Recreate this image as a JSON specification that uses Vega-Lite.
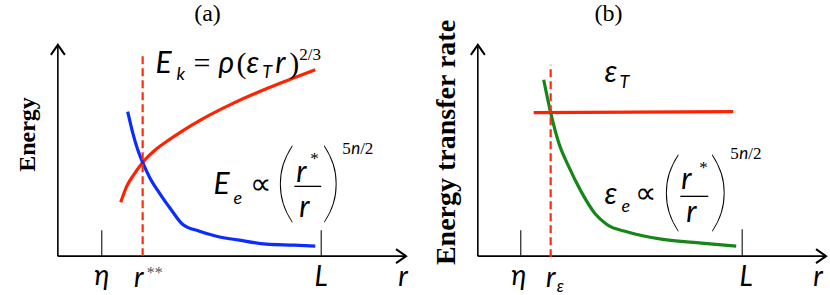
{
  "$schema": "https://vega.github.io/schema/vega-lite/v6.json",
  "width": 830,
  "height": 295,
  "autosize": {"type": "fit", "contains": "padding"},
  "padding": 0,
  "background": "white",
  "config": {"view": {"stroke": null}},
  "datasets": {
    "curves": [
      {"s": "Ek", "x": 121, "y": 92}, {"s": "Ek", "x": 127, "y": 108}, {"s": "Ek", "x": 135, "y": 121}, {"s": "Ek", "x": 143, "y": 132},
      {"s": "Ek", "x": 155, "y": 144}, {"s": "Ek", "x": 167, "y": 153}, {"s": "Ek", "x": 185, "y": 165}, {"s": "Ek", "x": 200, "y": 174},
      {"s": "Ek", "x": 233, "y": 191}, {"s": "Ek", "x": 267, "y": 206}, {"s": "Ek", "x": 295, "y": 217}, {"s": "Ek", "x": 316, "y": 225},
      {"s": "Ee", "x": 128, "y": 183}, {"s": "Ee", "x": 133, "y": 162}, {"s": "Ee", "x": 138, "y": 145}, {"s": "Ee", "x": 143, "y": 132},
      {"s": "Ee", "x": 150, "y": 117}, {"s": "Ee", "x": 160, "y": 101}, {"s": "Ee", "x": 172, "y": 84}, {"s": "Ee", "x": 183, "y": 70},
      {"s": "Ee", "x": 200, "y": 63}, {"s": "Ee", "x": 217, "y": 58}, {"s": "Ee", "x": 240, "y": 54}, {"s": "Ee", "x": 267, "y": 50},
      {"s": "Ee", "x": 295, "y": 49}, {"s": "Ee", "x": 316, "y": 48},
      {"s": "eT", "x": 535, "y": 182}, {"s": "eT", "x": 735, "y": 183},
      {"s": "ee", "x": 545, "y": 215}, {"s": "ee", "x": 552, "y": 182}, {"s": "ee", "x": 560, "y": 152}, {"s": "ee", "x": 570, "y": 128},
      {"s": "ee", "x": 583, "y": 102}, {"s": "ee", "x": 597, "y": 80}, {"s": "ee", "x": 608, "y": 70}, {"s": "ee", "x": 630, "y": 62},
      {"s": "ee", "x": 663, "y": 55}, {"s": "ee", "x": 703, "y": 51}, {"s": "ee", "x": 738, "y": 48}
    ],
    "segs": [
      {"role": "axis", "x": 58, "y": 38, "x2": 58, "y2": 250},
      {"role": "axis", "x": 58, "y": 38, "x2": 407, "y2": 38},
      {"role": "axis", "x": 479, "y": 38, "x2": 479, "y2": 250},
      {"role": "axis", "x": 479, "y": 38, "x2": 828, "y2": 38},
      {"role": "tick", "x": 102, "y": 38, "x2": 102, "y2": 64},
      {"role": "tick", "x": 322, "y": 38, "x2": 322, "y2": 64},
      {"role": "tick", "x": 522, "y": 38, "x2": 522, "y2": 64},
      {"role": "tick", "x": 744, "y": 38, "x2": 744, "y2": 65},
      {"role": "dash", "x": 143, "y": 38, "x2": 143, "y2": 241},
      {"role": "dash", "x": 552, "y": 37, "x2": 552, "y2": 230},
      {"role": "frac", "x": 295, "y": 108, "x2": 322, "y2": 108},
      {"role": "frac", "x": 682, "y": 98, "x2": 710, "y2": 98}
    ],
    "arrows": [
      {"dir": "up", "x": 58, "y": 250},
      {"dir": "up", "x": 479, "y": 250},
      {"dir": "right", "x": 407, "y": 38},
      {"dir": "right", "x": 828, "y": 38}
    ],
    "txt": [
      {"role": "title", "t": "(a)", "x": 208, "y": 281},
      {"role": "title", "t": "(b)", "x": 610, "y": 281},
      {"role": "ylab1", "t": "Energy", "x": 28, "y": 160},
      {"role": "ylab2", "t": "Energy transfer rate", "x": 448, "y": 152},
      {"role": "it", "t": "E", "x": 156, "y": 222},
      {"role": "sub", "t": "k", "x": 177, "y": 215},
      {"role": "rm", "t": "=", "x": 194, "y": 222},
      {"role": "it", "t": "ρ", "x": 219, "y": 222},
      {"role": "rm", "t": "(", "x": 237, "y": 222},
      {"role": "it", "t": "ε", "x": 247, "y": 222},
      {"role": "sub", "t": "T", "x": 263, "y": 217},
      {"role": "it", "t": "r", "x": 276, "y": 222},
      {"role": "rm", "t": ")", "x": 290, "y": 222},
      {"role": "sup", "t": "2/3", "x": 300, "y": 235},
      {"role": "it", "t": "E", "x": 214, "y": 100},
      {"role": "sub", "t": "e", "x": 234, "y": 90},
      {"role": "rm", "t": "∝", "x": 251, "y": 100},
      {"role": "paren", "t": "(", "x": 286, "y": 108},
      {"role": "it", "t": "r", "x": 297, "y": 112},
      {"role": "sup", "t": "*", "x": 311, "y": 130},
      {"role": "it", "t": "r", "x": 300, "y": 77},
      {"role": "paren", "t": ")", "x": 332, "y": 108},
      {"role": "sup", "t": "5", "x": 343, "y": 140},
      {"role": "supit", "t": "n", "x": 352, "y": 140},
      {"role": "sup", "t": "/2", "x": 361, "y": 140},
      {"role": "it", "t": "ε", "x": 606, "y": 213},
      {"role": "sub", "t": "T", "x": 621, "y": 207},
      {"role": "it", "t": "ε", "x": 606, "y": 90},
      {"role": "sub", "t": "e", "x": 623, "y": 82},
      {"role": "rm", "t": "∝", "x": 637, "y": 91},
      {"role": "paren", "t": "(", "x": 673, "y": 99},
      {"role": "it", "t": "r", "x": 683, "y": 105},
      {"role": "sup", "t": "*", "x": 701, "y": 121},
      {"role": "it", "t": "r", "x": 688, "y": 72},
      {"role": "paren", "t": ")", "x": 721, "y": 99},
      {"role": "sup", "t": "5", "x": 732, "y": 135},
      {"role": "supit", "t": "n", "x": 741, "y": 135},
      {"role": "sup", "t": "/2", "x": 750, "y": 135},
      {"role": "axlab", "t": "η", "x": 102, "y": 9},
      {"role": "axlab", "t": "r", "x": 139, "y": 7},
      {"role": "axsup", "t": "**", "x": 147, "y": 16},
      {"role": "axlab", "t": "L", "x": 322, "y": 8},
      {"role": "axlab", "t": "r", "x": 404, "y": 8},
      {"role": "axlab", "t": "η", "x": 520, "y": 9},
      {"role": "axlab", "t": "r", "x": 552, "y": 7},
      {"role": "axsub", "t": "ε", "x": 558, "y": 2},
      {"role": "axlab", "t": "L", "x": 748, "y": 8},
      {"role": "axlab", "t": "r", "x": 820, "y": 8}
    ]
  },
  "encoding": {
    "x": {"field": "x", "type": "quantitative", "scale": {"domain": [0, 830], "nice": false, "zero": false}, "axis": null},
    "y": {"field": "y", "type": "quantitative", "scale": {"domain": [0, 295], "nice": false, "zero": false}, "axis": null}
  },
  "layer": [
    {
      "data": {"name": "segs"},
      "transform": [{"filter": "datum.role === 'axis'"}],
      "mark": {"type": "rule", "color": "#000000", "strokeWidth": 1.6},
      "encoding": {"x2": {"field": "x2"}, "y2": {"field": "y2"}}
    },
    {
      "data": {"name": "segs"},
      "transform": [{"filter": "datum.role === 'tick'"}],
      "mark": {"type": "rule", "color": "#222222", "strokeWidth": 1.2},
      "encoding": {"x2": {"field": "x2"}, "y2": {"field": "y2"}}
    },
    {
      "data": {"name": "segs"},
      "transform": [{"filter": "datum.role === 'frac'"}],
      "mark": {"type": "rule", "color": "#000000", "strokeWidth": 1.3},
      "encoding": {"x2": {"field": "x2"}, "y2": {"field": "y2"}}
    },
    {
      "data": {"name": "curves"},
      "mark": {"type": "line", "interpolate": "monotone", "strokeWidth": 3.2, "strokeCap": "butt"},
      "encoding": {
        "detail": {"field": "s"},
        "color": {"field": "s", "type": "nominal", "scale": {"domain": ["Ek", "Ee", "eT", "ee"], "range": ["#ff2200", "#0a2cff", "#ff2200", "#14861a"]}, "legend": null}
      }
    },
    {
      "data": {"name": "segs"},
      "transform": [{"filter": "datum.role === 'dash'"}],
      "mark": {"type": "rule", "color": "#ff2a10", "strokeWidth": 2.2, "strokeDash": [8, 4]},
      "encoding": {"x2": {"field": "x2"}, "y2": {"field": "y2"}}
    },
    {
      "data": {"name": "arrows"},
      "transform": [{"filter": "datum.dir === 'up'"}],
      "mark": {"type": "point", "shape": "M -0.7 1 L 0 0 L 0.7 1", "size": 400, "filled": false, "stroke": "#000000", "strokeWidth": 2, "opacity": 1}
    },
    {
      "data": {"name": "arrows"},
      "transform": [{"filter": "datum.dir === 'right'"}],
      "mark": {"type": "point", "shape": "M -1 -0.7 L 0 0 L -1 0.7", "size": 400, "filled": false, "stroke": "#000000", "strokeWidth": 2, "opacity": 1}
    },
    {
      "data": {"name": "txt"},
      "transform": [{"filter": "datum.role === 'title'"}],
      "mark": {"type": "text", "font": "Liberation Serif", "fontSize": 24, "align": "center", "baseline": "middle", "color": "#000000"},
      "encoding": {"text": {"field": "t"}}
    },
    {
      "data": {"name": "txt"},
      "transform": [{"filter": "datum.role === 'ylab1'"}],
      "mark": {"type": "text", "font": "Liberation Serif", "fontSize": 24, "fontWeight": "bold", "angle": 270, "align": "center", "baseline": "middle", "color": "#000000"},
      "encoding": {"text": {"field": "t"}}
    },
    {
      "data": {"name": "txt"},
      "transform": [{"filter": "datum.role === 'ylab2'"}],
      "mark": {"type": "text", "font": "Liberation Serif", "fontSize": 28, "fontWeight": "bold", "angle": 270, "align": "center", "baseline": "middle", "color": "#000000"},
      "encoding": {"text": {"field": "t"}}
    },
    {
      "data": {"name": "txt"},
      "transform": [{"filter": "datum.role === 'it'"}],
      "mark": {"type": "text", "font": "Lato", "fontSize": 30, "fontStyle": "italic", "align": "left", "baseline": "alphabetic", "color": "#000000"},
      "encoding": {"text": {"field": "t"}}
    },
    {
      "data": {"name": "txt"},
      "transform": [{"filter": "datum.role === 'rm'"}],
      "mark": {"type": "text", "font": "Liberation Serif", "fontSize": 30, "align": "left", "baseline": "alphabetic", "color": "#000000"},
      "encoding": {"text": {"field": "t"}}
    },
    {
      "data": {"name": "txt"},
      "transform": [{"filter": "datum.role === 'sub'"}],
      "mark": {"type": "text", "font": "Lato", "fontSize": 18, "fontStyle": "italic", "align": "left", "baseline": "alphabetic", "color": "#000000"},
      "encoding": {"text": {"field": "t"}}
    },
    {
      "data": {"name": "txt"},
      "transform": [{"filter": "datum.role === 'sup'"}],
      "mark": {"type": "text", "font": "Liberation Serif", "fontSize": 17, "align": "left", "baseline": "alphabetic", "color": "#000000"},
      "encoding": {"text": {"field": "t"}}
    },
    {
      "data": {"name": "txt"},
      "transform": [{"filter": "datum.role === 'supit'"}],
      "mark": {"type": "text", "font": "Lato", "fontSize": 17, "fontStyle": "italic", "align": "left", "baseline": "alphabetic", "color": "#000000"},
      "encoding": {"text": {"field": "t"}}
    },
    {
      "data": {"name": "txt"},
      "transform": [{"filter": "datum.role === 'paren'"}],
      "mark": {"type": "text", "font": "Lato", "fontSize": 88, "fontWeight": 100, "align": "center", "baseline": "middle", "color": "#000000"},
      "encoding": {"text": {"field": "t"}}
    },
    {
      "data": {"name": "txt"},
      "transform": [{"filter": "datum.role === 'axlab'"}],
      "mark": {"type": "text", "font": "Lato", "fontSize": 28, "fontStyle": "italic", "align": "center", "baseline": "alphabetic", "color": "#000000"},
      "encoding": {"text": {"field": "t"}}
    },
    {
      "data": {"name": "txt"},
      "transform": [{"filter": "datum.role === 'axsup'"}],
      "mark": {"type": "text", "font": "Liberation Serif", "fontSize": 16, "align": "left", "baseline": "alphabetic", "color": "#555555"},
      "encoding": {"text": {"field": "t"}}
    },
    {
      "data": {"name": "txt"},
      "transform": [{"filter": "datum.role === 'axsub'"}],
      "mark": {"type": "text", "font": "Lato", "fontSize": 17, "fontStyle": "italic", "align": "left", "baseline": "alphabetic", "color": "#000000"},
      "encoding": {"text": {"field": "t"}}
    }
  ]
}
